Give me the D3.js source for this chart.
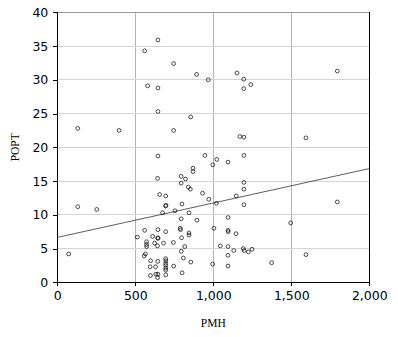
<!DOCTYPE html>
<html>
<head>
<meta charset="utf-8">
<script src="https://cdn.jsdelivr.net/npm/d3@7/dist/d3.min.js"></script>
<style>
html,body{margin:0;padding:0;background:#fff;}
svg{display:block;}
</style>
</head>
<body>
<svg id="chart" width="398" height="337"></svg>
<script>
const xTicks = [0, 500, 1000, 1500, 2000];
const yTicks = [0, 5, 10, 15, 20, 25, 30, 35, 40];
const xLabel = "PMH";
const yLabel = "POPT";
const pmh = [560,645,746,893,579,645,645,855,131,396,746,645,870,870,968,1152,1195,1195,1240,1795,1170,1196,1594,946,1022,997,1094,1196,
  1196,1196,931,971,1147,1020,1196,1795,1095,1496,1004,1094,1096,1146,1045,1095,1131,1192,1198,1225,1248,1094,1594,996,1374,1094,
  643,794,822,794,840,853,656,695,694,697,799,131,253,675,754,844,895,794,560,645,695,788,790,844,844,513,611,644,646,797,572,572,573,
  624,642,681,744,817,795,565,557,598,644,695,695,695,695,695,695,695,808,856,595,630,746,597,632,643,645,800,73];
const popt = [34.3,35.9,32.4,30.8,29.1,28.8,25.3,24.5,22.8,22.5,22.5,18.7,16.9,16.4,30.0,31.0,30.1,28.7,29.3,31.3,21.6,21.5,21.4,18.8,18.2,17.4,17.8,18.8,
  14.8,13.8,13.2,12.3,12.8,11.7,11.5,11.9,9.6,8.8,8.0,7.7,7.5,7.2,5.4,5.3,4.7,5.0,4.7,4.5,4.9,4.0,4.1,2.7,2.9,2.4,
  15.4,15.7,15.3,14.7,14.1,13.8,13.0,12.8,11.3,11.4,11.6,11.2,10.8,10.3,10.6,10.3,9.2,9.4,7.7,7.8,7.5,8.0,7.8,7.3,7.0,6.7,6.8,6.6,6.5,6.6,6.0,5.6,5.3,
  5.8,5.4,5.8,5.9,5.3,4.6,4.2,3.9,3.2,3.1,3.5,3.2,2.8,2.5,2.1,1.8,1.1,3.6,3.0,2.3,2.3,2.4,1.0,1.2,0.7,1.2,1.4,4.2];
const fitIntercept = 6.65;
const fitSlope = 0.0051;

const svg = d3.select("#chart");
const pLeft = 57.3, pRight = 369.3, pTop = 12.3, pBottom = 282.3;
const x = d3.scaleLinear().domain([0, 2000]).range([pLeft, pRight]);
const y = d3.scaleLinear().domain([0, 40]).range([pBottom, pTop]);

// grid
svg.append("g").selectAll("line").data(xTicks.slice(1, -1)).join("line")
  .attr("x1", d => x(d)).attr("x2", d => x(d)).attr("y1", pTop).attr("y2", pBottom)
  .attr("stroke", "#b4b4b4").attr("stroke-width", 1).attr("shape-rendering", "crispEdges");
svg.append("g").selectAll("line").data(yTicks.slice(1, -1)).join("line")
  .attr("x1", pLeft).attr("x2", pRight).attr("y1", d => y(d)).attr("y2", d => y(d))
  .attr("stroke", "#d4d4d4").attr("stroke-width", 1).attr("shape-rendering", "crispEdges");
// top border
svg.append("line").attr("x1", pLeft).attr("x2", pRight).attr("y1", y(40)).attr("y2", y(40))
  .attr("stroke", "#999").attr("shape-rendering", "crispEdges");
// right border
svg.append("line").attr("x1", pRight).attr("x2", pRight).attr("y1", pTop).attr("y2", pBottom)
  .attr("stroke", "#000").attr("stroke-width", 1.2).attr("shape-rendering", "crispEdges");

// axes
const xAxis = d3.axisBottom(x).tickValues(xTicks).tickSize(4).tickPadding(5).tickFormat(d3.format(","));
const yAxis = d3.axisLeft(y).tickValues(yTicks).tickSize(4).tickPadding(5).tickFormat(d3.format("d"));
const gx = svg.append("g").attr("transform", `translate(0,${pBottom})`).call(xAxis);
const gy = svg.append("g").attr("transform", `translate(${pLeft},0)`).call(yAxis);
[gx, gy].forEach(g => {
  g.select(".domain").attr("stroke", "#000").attr("shape-rendering", "crispEdges");
  g.selectAll(".tick line").attr("stroke", "#000").attr("shape-rendering", "crispEdges");
  g.selectAll(".tick text").attr("font-family", "'DejaVu Sans', Verdana, sans-serif")
    .attr("font-size", "12.5px").attr("fill", "#000");
});
gx.select(".domain").attr("d", `M${pLeft},0H${pRight}`);
gy.select(".domain").attr("d", `M0,${pTop}V${pBottom}`);

// regression line
svg.append("line")
  .attr("x1", x(0)).attr("y1", y(fitIntercept))
  .attr("x2", x(2000)).attr("y2", y(fitIntercept + fitSlope * 2000))
  .attr("stroke", "#333").attr("stroke-width", 0.8);

// points
const pts = pmh.map((v, i) => ({x: v, y: popt[i]}));
svg.append("g").selectAll("circle").data(pts).join("circle")
  .attr("cx", d => x(d.x)).attr("cy", d => y(d.y)).attr("r", 1.9)
  .attr("fill", "none").attr("stroke", "#000").attr("stroke-width", 0.7);

// axis titles
svg.append("text").attr("x", x(1000)).attr("y", 327).attr("text-anchor", "middle")
  .attr("font-family", "'Liberation Serif', 'Times New Roman', serif").attr("font-size", "11.5px")
  .text(xLabel);
svg.append("text").attr("transform", `translate(19,${(pTop + pBottom) / 2}) rotate(-90)`)
  .attr("text-anchor", "middle")
  .attr("font-family", "'Liberation Serif', 'Times New Roman', serif").attr("font-size", "11.5px")
  .text(yLabel);
</script>
</body>
</html>
